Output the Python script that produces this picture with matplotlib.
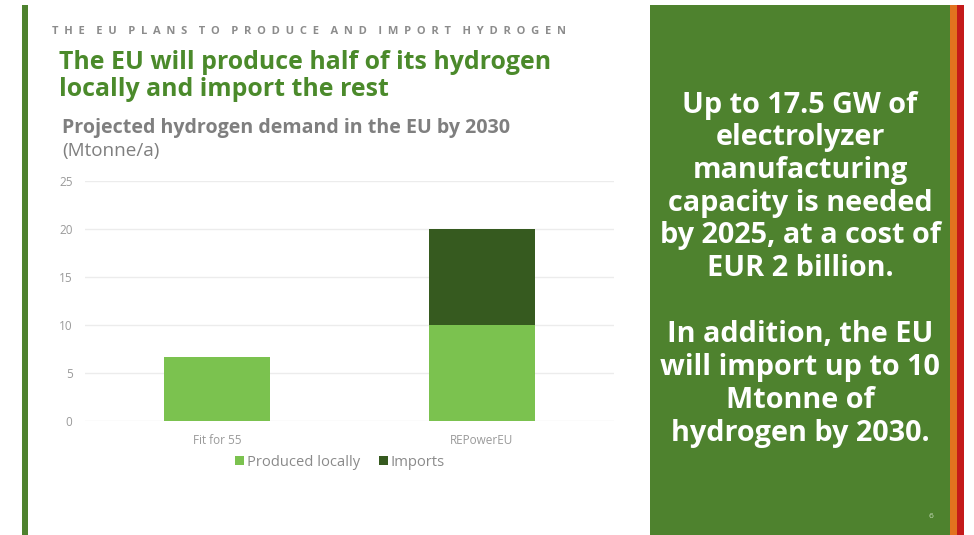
import matplotlib
matplotlib.use("Agg")
import matplotlib.pyplot as plt
from matplotlib.patches import Rectangle

# Data (Mtonne/a)
scenarios = ["Fit for 55", "REPowerEU"]
produced_locally = [6.7, 10.0]
imports = [0.0, 10.0]
y_ticks = [0, 5, 10, 15, 20, 25]

LIGHT = "#7bc24f"
DARK = "#365a1f"
PANEL = "#4e822e"
TITLE_GREEN = "#4b8a2b"
FONT = "Open Sans"

fig = plt.figure(figsize=(9.74, 5.35), dpi=100)
fig.patch.set_facecolor("white")
W, H = 974, 535

def px(x, y):
    return x / W, 1 - y / H

# Decorative slide elements
fig.patches.append(Rectangle(px(22, 535), 6 / W, 530 / H, transform=fig.transFigure,
                             facecolor=PANEL, edgecolor="none"))
fig.patches.append(Rectangle(px(650, 535), 300 / W, 530 / H, transform=fig.transFigure,
                             facecolor=PANEL, edgecolor="none"))
fig.patches.append(Rectangle(px(950, 535), 7 / W, 530 / H, transform=fig.transFigure,
                             facecolor="#e2721f", edgecolor="none"))
fig.patches.append(Rectangle(px(957, 535), 7 / W, 530 / H, transform=fig.transFigure,
                             facecolor="#c41a1a", edgecolor="none"))

# Header (letter-spaced caps)
header = "THE EU PLANS TO PRODUCE AND IMPORT HYDROGEN"
spaced = "    ".join("  ".join(w) for w in header.split(" "))
fig.text(*px(52, 31), spaced, fontsize=8, fontweight="bold", color="#8c8c8c",
         family=FONT, va="center", ha="left")

fig.text(*px(59, 62), "The EU will produce half of its hydrogen", fontsize=17.9,
         fontweight="bold", color=TITLE_GREEN, family=FONT, va="center", ha="left")
fig.text(*px(59, 90), "locally and import the rest", fontsize=17.9,
         fontweight="bold", color=TITLE_GREEN, family=FONT, va="center", ha="left")

fig.text(*px(62, 128), "Projected hydrogen demand in the EU by 2030", fontsize=14.1,
         fontweight="bold", color="#7f7f7f", family=FONT, va="center", ha="left")
fig.text(*px(62, 151), "(Mtonne/a)", fontsize=13.6, color="#7f7f7f", family=FONT,
         va="center", ha="left")

# Chart
ax = fig.add_axes([85 / W, 1 - 421 / H, (614 - 85) / W, (421 - 181) / H])
x = range(len(scenarios))
ax.bar(x, produced_locally, width=0.4, color=LIGHT, label="Produced locally", zorder=3)
ax.bar(x, imports, width=0.4, bottom=produced_locally, color=DARK, label="Imports", zorder=3)
ax.set_xlim(-0.5, 1.5)
ax.set_ylim(0, 25)
ax.set_yticks(y_ticks)
ax.set_yticklabels([str(t) for t in y_ticks], fontsize=8.5, color="#9a9a9a", family=FONT)
ax.set_xticks(list(x))
ax.set_xticklabels(scenarios, fontsize=8.5, color="#9a9a9a", family=FONT)
ax.tick_params(axis="both", length=0)
ax.tick_params(axis="y", pad=9)
ax.tick_params(axis="x", pad=9)
ax.grid(axis="y", color="#ececec", linewidth=1, zorder=0)
for s in ax.spines.values():
    s.set_visible(False)
ax.set_facecolor("none")

handles, labels = ax.get_legend_handles_labels()
fig.legend(handles, labels, loc="center", bbox_to_anchor=px(340, 462), ncol=2,
           frameon=False, prop={"family": FONT, "size": 10.6}, labelcolor="#8a8a8a",
           handlelength=0.6, handleheight=0.6, handletextpad=0.2, columnspacing=1.3)

# Side panel text
lines = ["Up to 17.5 GW of", "electrolyzer", "manufacturing", "capacity is needed",
         "by 2025, at a cost of", "EUR 2 billion."]
lines2 = ["In addition, the EU", "will import up to 10", "Mtonne of", "hydrogen by 2030."]
for i, t in enumerate(lines):
    fig.text(*px(800, 105 + i * 32.7), t, fontsize=20.8, fontweight="bold", color="white",
             family=FONT, ha="center", va="center")
for i, t in enumerate(lines2):
    fig.text(*px(800, 335 + i * 33), t, fontsize=20.8, fontweight="bold", color="white",
             family=FONT, ha="center", va="center")
fig.text(*px(931, 516), "6", fontsize=6, color="#c8dcbc", family=FONT, ha="center", va="center")

fig.savefig("out.png", dpi=100)
